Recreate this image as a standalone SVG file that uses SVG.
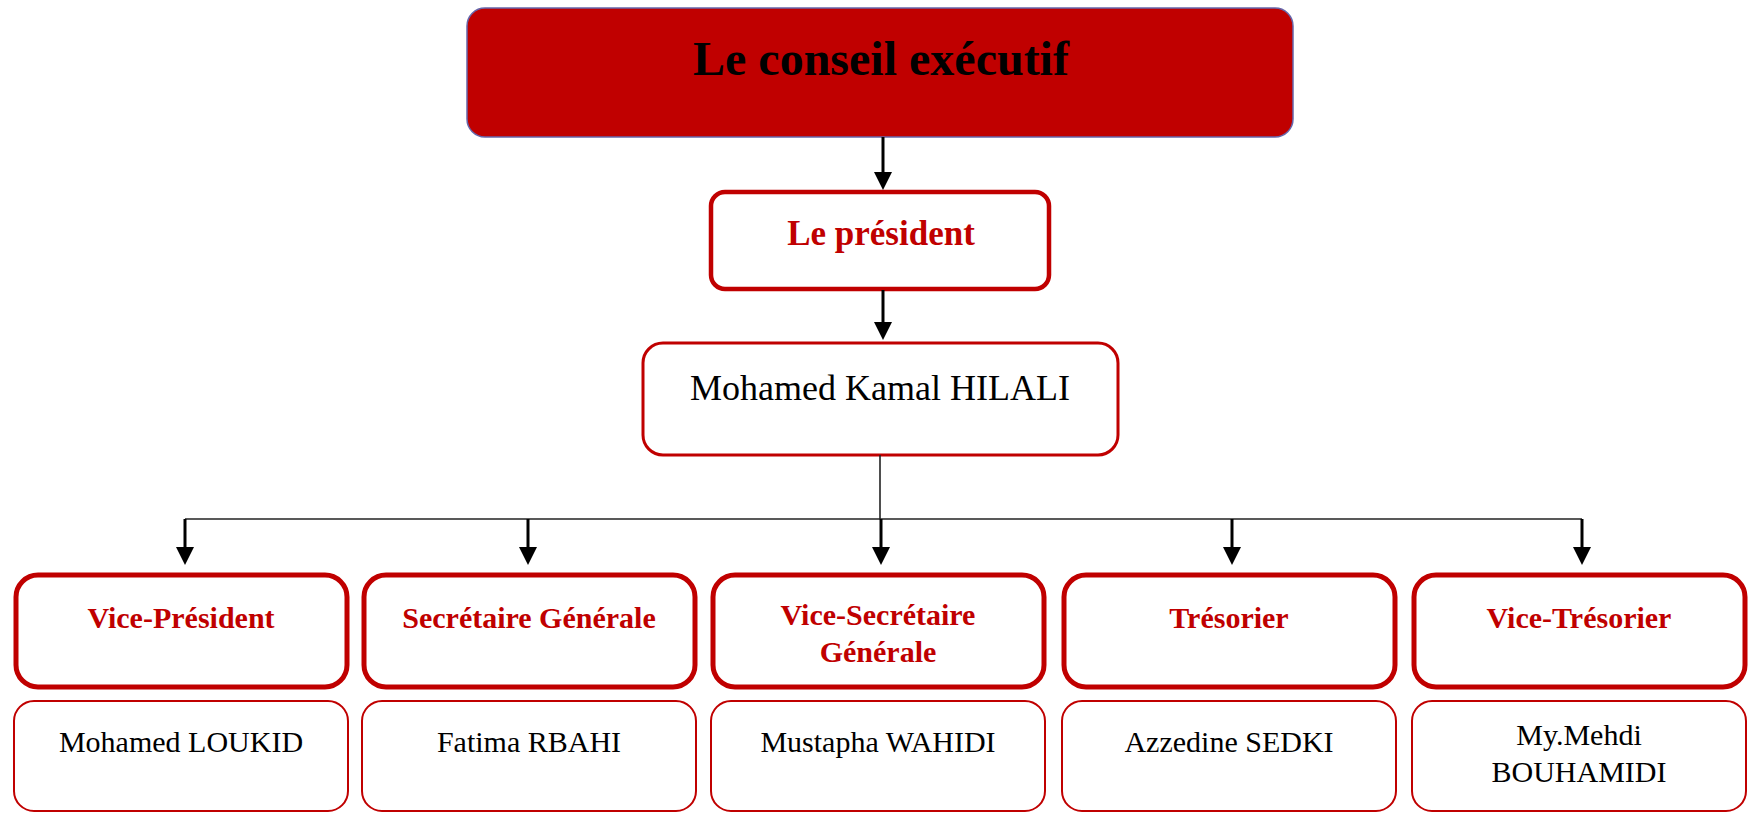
<svg xmlns="http://www.w3.org/2000/svg" width="1760" height="824" viewBox="0 0 1760 824">
<style>
.t{font-family:"Liberation Serif","Times New Roman",serif;text-anchor:middle}
.role{fill:#fff;stroke:#C00000;stroke-width:5}
.name{fill:#fff;stroke:#C00000;stroke-width:2}
.rt{font-size:30px;font-weight:bold;fill:#C00000}
.nt{font-size:30px;fill:#000}
.ln{stroke:#000;stroke-width:3;fill:none}
.thin{stroke:#222;stroke-width:1.6;fill:none}
.ah{fill:#000}
</style>
<rect width="1760" height="824" fill="#fff"/>
<g id="conseil">
<rect x="467" y="8" width="826" height="129" rx="18" fill="#C00000" stroke="#6666AA" stroke-width="1.5"/>
<text class="t" x="881" y="75" font-size="48" font-weight="bold" fill="#000">Le conseil exécutif</text>
</g>
<g id="president">
<rect x="711" y="192" width="338" height="97" rx="14" fill="#fff" stroke="#C00000" stroke-width="4.5"/>
<text class="t" x="881" y="245" font-size="35" font-weight="bold" fill="#C00000">Le président</text>
</g>
<g id="hilali">
<rect x="643" y="343" width="475" height="112" rx="20" fill="#fff" stroke="#C00000" stroke-width="3"/>
<text class="t" x="880" y="400" font-size="36" fill="#000">Mohamed Kamal HILALI</text>
</g>
<g id="connectors">
<line class="ln" x1="883" y1="137" x2="883" y2="173"/>
<polygon class="ah" points="874,172 892,172 883,190"/>
<line class="ln" x1="883" y1="290" x2="883" y2="323"/>
<polygon class="ah" points="874,322 892,322 883,340"/>
<line class="thin" x1="880" y1="455" x2="880" y2="519"/>
<line class="thin" x1="185" y1="519" x2="1582" y2="519"/>
<line class="ln" x1="185" y1="519" x2="185" y2="548"/>
<polygon class="ah" points="176,547 194,547 185,565"/>
<line class="ln" x1="528" y1="519" x2="528" y2="548"/>
<polygon class="ah" points="519,547 537,547 528,565"/>
<line class="ln" x1="881" y1="519" x2="881" y2="548"/>
<polygon class="ah" points="872,547 890,547 881,565"/>
<line class="ln" x1="1232" y1="519" x2="1232" y2="548"/>
<polygon class="ah" points="1223,547 1241,547 1232,565"/>
<line class="ln" x1="1582" y1="519" x2="1582" y2="548"/>
<polygon class="ah" points="1573,547 1591,547 1582,565"/>
</g>
<g id="vice-president">
<rect class="role" x="16" y="575" width="331" height="112" rx="22"/>
<text class="t rt" x="181" y="628">Vice-Président</text>
</g>
<g id="secretaire">
<rect class="role" x="364" y="575" width="331" height="112" rx="22"/>
<text class="t rt" x="529" y="628">Secrétaire Générale</text>
</g>
<g id="vice-secretaire">
<rect class="role" x="713" y="575" width="331" height="112" rx="22"/>
<text class="t rt" x="878" y="625">Vice-Secrétaire</text>
<text class="t rt" x="878" y="662">Générale</text>
</g>
<g id="tresorier">
<rect class="role" x="1064" y="575" width="331" height="112" rx="22"/>
<text class="t rt" x="1229" y="628">Trésorier</text>
</g>
<g id="vice-tresorier">
<rect class="role" x="1414" y="575" width="331" height="112" rx="22"/>
<text class="t rt" x="1579" y="628">Vice-Trésorier</text>
</g>
<g id="loukid">
<rect class="name" x="14" y="701" width="334" height="110" rx="20"/>
<text class="t nt" x="181" y="752">Mohamed LOUKID</text>
</g>
<g id="rbahi">
<rect class="name" x="362" y="701" width="334" height="110" rx="20"/>
<text class="t nt" x="529" y="752">Fatima RBAHI</text>
</g>
<g id="wahidi">
<rect class="name" x="711" y="701" width="334" height="110" rx="20"/>
<text class="t nt" x="878" y="752">Mustapha WAHIDI</text>
</g>
<g id="sedki">
<rect class="name" x="1062" y="701" width="334" height="110" rx="20"/>
<text class="t nt" x="1229" y="752">Azzedine SEDKI</text>
</g>
<g id="bouhamidi">
<rect class="name" x="1412" y="701" width="334" height="110" rx="20"/>
<text class="t nt" x="1579" y="745">My.Mehdi</text>
<text class="t nt" x="1579" y="782">BOUHAMIDI</text>
</g>
</svg>
